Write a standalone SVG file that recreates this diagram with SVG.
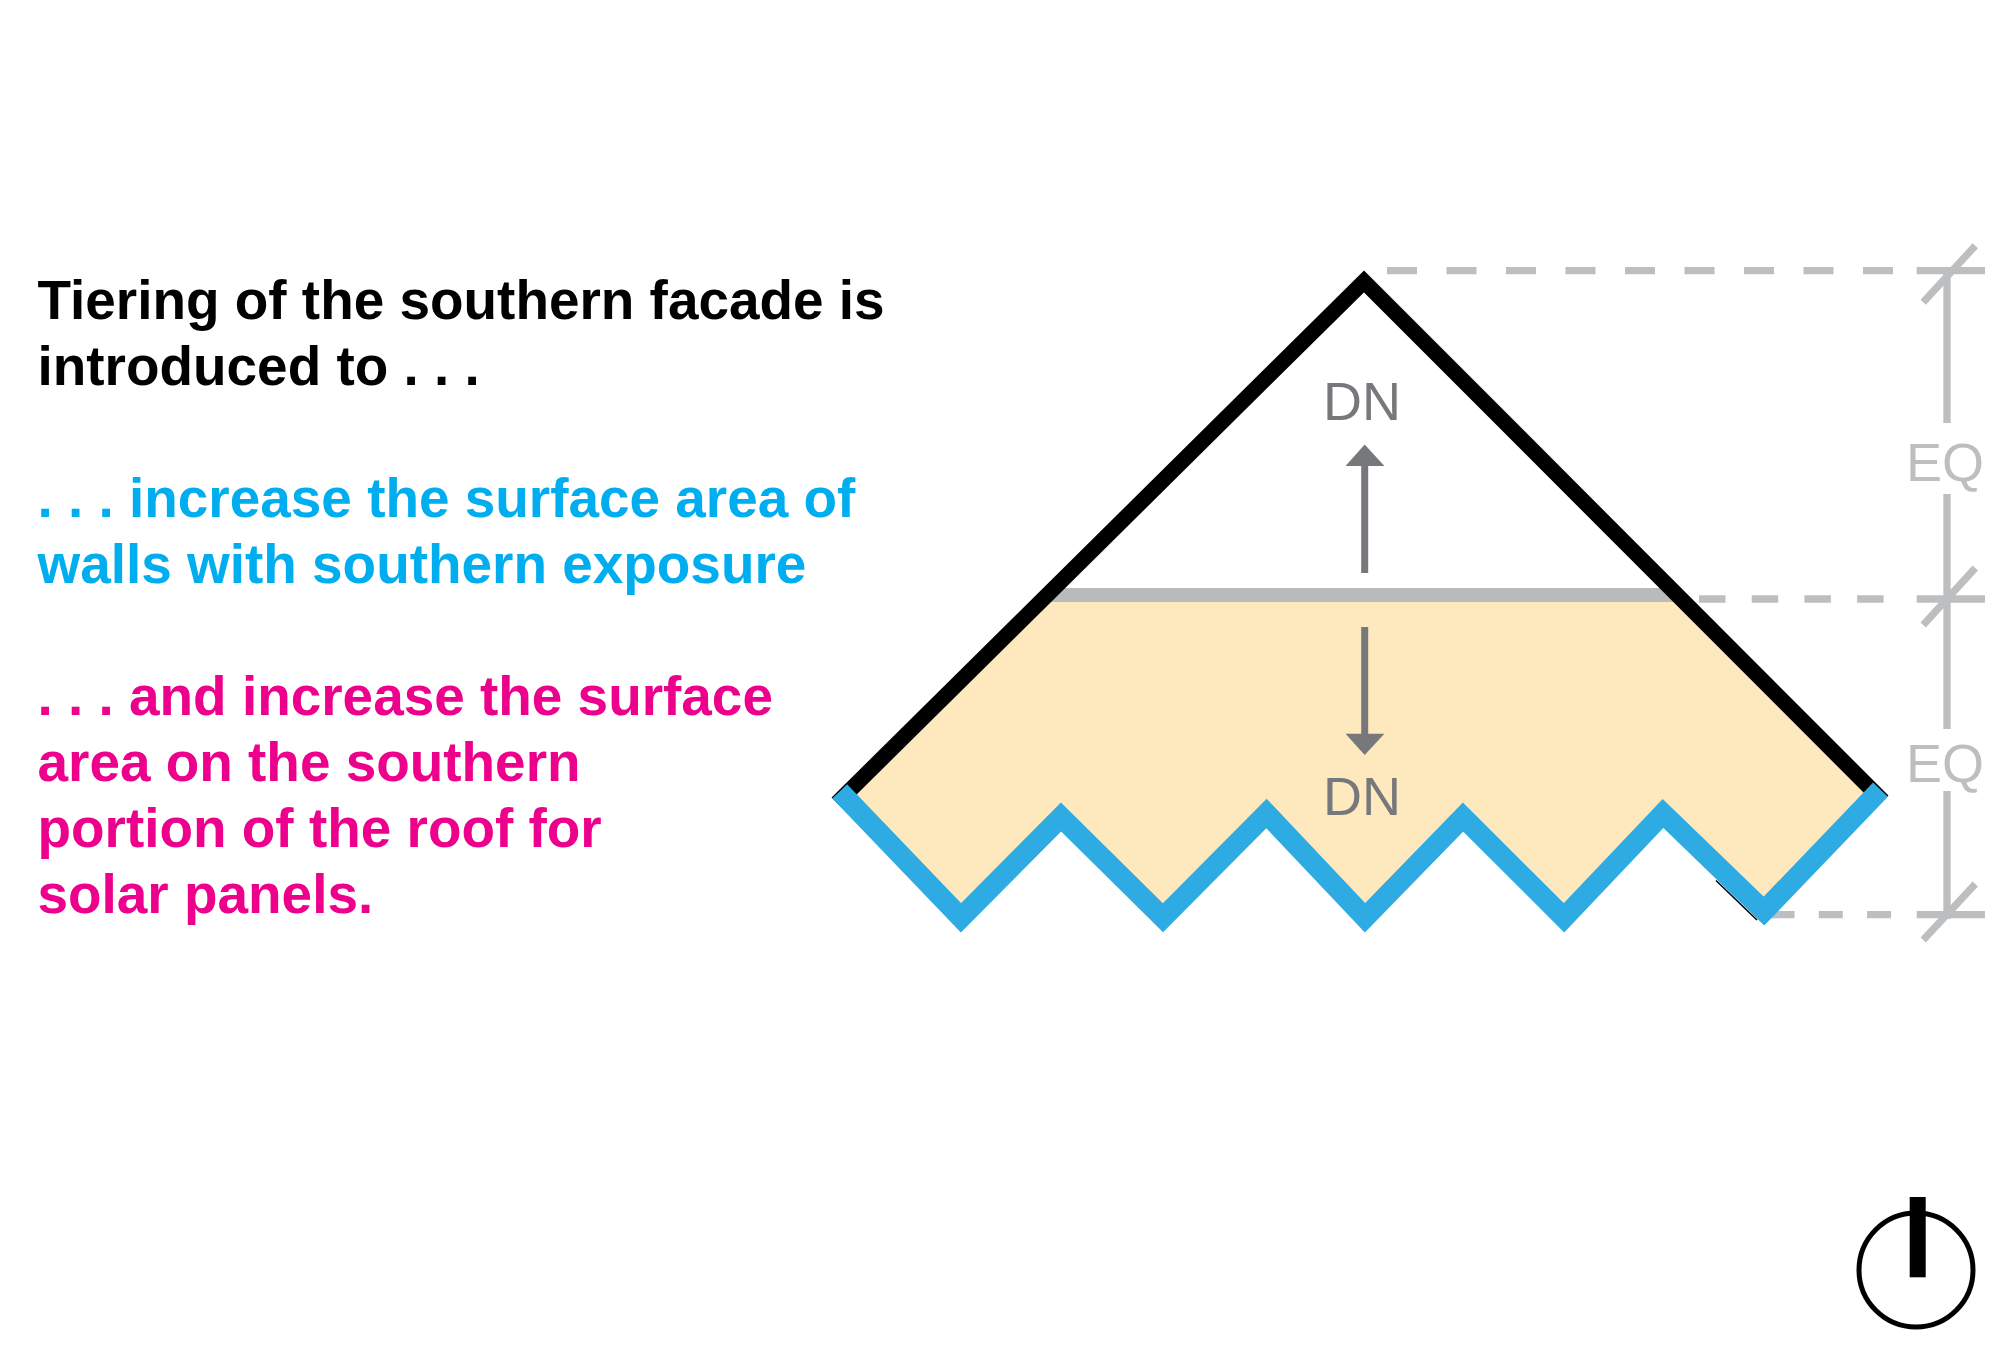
<svg xmlns="http://www.w3.org/2000/svg" width="2000" height="1350" viewBox="0 0 2000 1350">
<style>
.t{font-family:"Liberation Sans",Arial,sans-serif;font-weight:700;font-size:54.92px}
.l{font-family:"Liberation Sans",Arial,sans-serif;font-size:54px}
.dn{fill:#77787b}.eq{fill:#bcbec0}
.dim{stroke:#bcbec0;stroke-width:7.3;fill:none}
.arr{stroke:#77787b;stroke-width:7;fill:none}
</style>
<rect width="2000" height="1350" fill="#fff"/>
<g id="description">
<text class="t" x="37.500" y="319" fill="#000">Tiering of the southern facade is</text>
<text class="t" x="37.500" y="385" fill="#000">introduced to . . .</text>
<text class="t" x="37.500" y="517" fill="#00aeef">. . . increase the surface area of</text>
<text class="t" x="37.500" y="583" fill="#00aeef">walls with southern exposure</text>
<text class="t" x="37.500" y="715" fill="#ec008c">. . . and increase the surface</text>
<text class="t" x="37.500" y="781" fill="#ec008c">area on the southern</text>
<text class="t" x="37.500" y="847" fill="#ec008c">portion of the roof for</text>
<text class="t" x="37.500" y="913" fill="#ec008c">solar panels.</text>
</g>
<g id="lower-tier">
<polygon points="1047,595 839.700,791.300 961,917.800 1061,817 1163,917.800 1266.500,813.500 1365,917.800 1463,817 1564,917.800 1663,813.500 1764,911 1880.500,789.700 1677,595" fill="#fde9bd"/>
</g>
<g id="dimensions">
<path class="dim" d="M1387,270.700H1900" stroke-dasharray="30 29.500"/>
<path class="dim" d="M1916.700,270.700H1985M1975.300,245.700L1923.200,302.300"/>
<path class="dim" d="M1699,599H1890" stroke-dasharray="26.500 26.200"/>
<path class="dim" d="M1916.700,599H1985M1975.300,568L1923.200,625"/>
<path class="dim" d="M1770.500,914.700H1895" stroke-dasharray="24 24.300"/>
<path class="dim" d="M1916.700,914.700H1985M1975.300,884L1923.200,940"/>
<path class="dim" d="M1947,271V423M1947,494V729M1947,791V919"/>
<text class="l eq" x="1906" y="481">EQ</text>
<text class="l eq" x="1906" y="782">EQ</text>
</g>
<g id="connectors">
<path class="arr" d="M1364.700,573V460"/>
<polygon points="1364.700,444.400 1384.400,466 1345.500,466" fill="#77787b"/>
<path class="arr" d="M1364.700,627V740"/>
<polygon points="1364.700,755 1384.400,733.700 1345.500,733.700" fill="#77787b"/>
</g>
<g id="tier-line">
<path d="M1047,595H1677" stroke="#b9babc" stroke-width="14" fill="none"/>
</g>
<g id="outline">
<path d="M837,803L1364,281.400L1883,801" stroke="#000" stroke-width="15.500" fill="none" stroke-miterlimit="10"/>
<path d="M1716,880.500L1757,920" stroke="#000" stroke-width="1.600" fill="none"/>
<path d="M839.700,791.300L961,917.800L1061,817L1163,917.800L1266.500,813.500L1365,917.800L1463,817L1564,917.800L1663,813.500L1764,911L1880.500,789.700" stroke="#2dabe2" stroke-width="20.500" fill="none" stroke-miterlimit="10"/>
</g>
<g id="labels">
<text class="l dn" x="1323" y="420">DN</text>
<text class="l dn" x="1323" y="815">DN</text>
</g>
<g id="north">
<circle cx="1916" cy="1270" r="57" fill="none" stroke="#000" stroke-width="5"/>
<rect x="1909.700" y="1197" width="16" height="80.300" fill="#000"/>
</g>
</svg>
